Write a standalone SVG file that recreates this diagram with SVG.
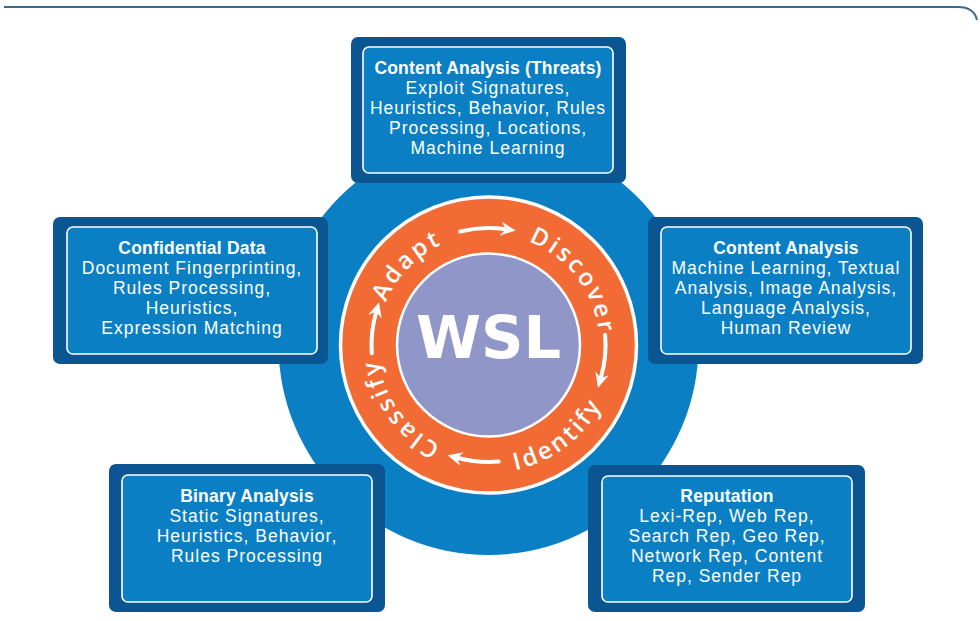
<svg xmlns="http://www.w3.org/2000/svg" width="980" height="621" viewBox="0 0 980 621">
<style>
.outer{fill:#0a5592}
.inner{fill:#0b7fc4;stroke:#ffffff;stroke-width:1.6}
.t{font-family:"Liberation Sans",Arial,sans-serif;font-size:17.5px;fill:#ffffff;text-anchor:middle;letter-spacing:1px}
.h{font-weight:bold;letter-spacing:0.2px}
.ring{font-family:"Open Sans","Liberation Sans",sans-serif;font-size:24px;fill:#ffffff;letter-spacing:3px;font-weight:600}
.arc{fill:none;stroke:#ffffff;stroke-width:4;stroke-linecap:round}
</style>
<defs>
<marker id="ah" markerUnits="userSpaceOnUse" markerWidth="16" markerHeight="16" refX="4" refY="8" orient="auto" viewBox="0 0 16 16"><path d="M0,1 L15,8 L0,15 L5,8 Z" fill="#ffffff"/></marker>
<path id="pOut" d="M488.5,456 A111,111 0 1 1 488.5,234 A111,111 0 1 1 488.5,456"/>
<path id="pIn" d="M488.5,217 A128,128 0 1 0 488.5,473 A128,128 0 1 0 488.5,217"/>
</defs>
<rect width="980" height="621" fill="#ffffff"/>
<path d="M4,7 H958 Q974,7 977,20" fill="none" stroke="#3e6890" stroke-width="2"/>
<g id="hub">
<circle cx="488.5" cy="345" r="210" fill="#0b7fc4"/>
<circle cx="488.5" cy="345" r="148" fill="#f26b35" stroke="#ffffff" stroke-width="3.5"/>
<circle cx="488.5" cy="345" r="91.5" fill="#9196c9" stroke="#ffffff" stroke-width="2.5"/>
<text x="488.5" y="358" font-family="DejaVu Sans, sans-serif" font-weight="bold" font-size="59" fill="#ffffff" text-anchor="middle">WSL</text>
</g>
<g id="cycle-labels">
<text class="ring"><textPath href="#pOut" startOffset="37.3%" text-anchor="middle">Adapt</textPath></text>
<text class="ring"><textPath href="#pOut" startOffset="64.7%" text-anchor="middle">Discover</textPath></text>
<text class="ring"><textPath href="#pIn" startOffset="60.4%" text-anchor="middle">Identify</textPath></text>
<text class="ring"><textPath href="#pOut" startOffset="15.1%" text-anchor="middle">Classify</textPath></text>
</g>
<g id="connectors">
<path class="arc" d="M460.2,231.5 A117,117 0 0 1 504.8,229.1" marker-end="url(#ah)"/>
<path class="arc" d="M605.1,334.8 A117,117 0 0 1 601.0,377.2" marker-end="url(#ah)"/>
<path class="arc" d="M498.7,461.6 A117,117 0 0 1 458.2,458.0" marker-end="url(#ah)"/>
<path class="arc" d="M371.8,353.2 A117,117 0 0 1 376.0,312.8" marker-end="url(#ah)"/>
</g>
<g id="threats">
<rect class="outer" x="351" y="37" width="275" height="146" rx="7"/>
<rect class="inner" x="363" y="47" width="250" height="126" rx="6"/>
<text class="t h" x="488" y="74">Content Analysis (Threats)</text>
<text class="t" x="488" y="94">Exploit Signatures,</text>
<text class="t" x="488" y="114">Heuristics, Behavior, Rules</text>
<text class="t" x="488" y="134">Processing, Locations,</text>
<text class="t" x="488" y="154">Machine Learning</text>
</g>
<g id="confidential">
<rect class="outer" x="53" y="217" width="275" height="147" rx="7"/>
<rect class="inner" x="67" y="227" width="250" height="127" rx="6"/>
<text class="t h" x="192" y="254">Confidential Data</text>
<text class="t" x="192" y="274">Document Fingerprinting,</text>
<text class="t" x="192" y="294">Rules Processing,</text>
<text class="t" x="192" y="314">Heuristics,</text>
<text class="t" x="192" y="334">Expression Matching</text>
</g>
<g id="content">
<rect class="outer" x="648" y="217" width="275" height="147" rx="7"/>
<rect class="inner" x="661" y="227" width="250" height="127" rx="6"/>
<text class="t h" x="786" y="254">Content Analysis</text>
<text class="t" x="786" y="274">Machine Learning, Textual</text>
<text class="t" x="786" y="294">Analysis, Image Analysis,</text>
<text class="t" x="786" y="314">Language Analysis,</text>
<text class="t" x="786" y="334">Human Review</text>
</g>
<g id="binary">
<rect class="outer" x="109" y="464" width="276" height="148" rx="7"/>
<rect class="inner" x="122" y="475" width="250" height="127" rx="6"/>
<text class="t h" x="247" y="502">Binary Analysis</text>
<text class="t" x="247" y="522">Static Signatures,</text>
<text class="t" x="247" y="542">Heuristics, Behavior,</text>
<text class="t" x="247" y="562">Rules Processing</text>
</g>
<g id="reputation">
<rect class="outer" x="588" y="465" width="277" height="147" rx="7"/>
<rect class="inner" x="602" y="476" width="250" height="126" rx="6"/>
<text class="t h" x="727" y="502">Reputation</text>
<text class="t" x="727" y="522">Lexi-Rep, Web Rep,</text>
<text class="t" x="727" y="542">Search Rep, Geo Rep,</text>
<text class="t" x="727" y="562">Network Rep, Content</text>
<text class="t" x="727" y="582">Rep, Sender Rep</text>
</g>
</svg>
